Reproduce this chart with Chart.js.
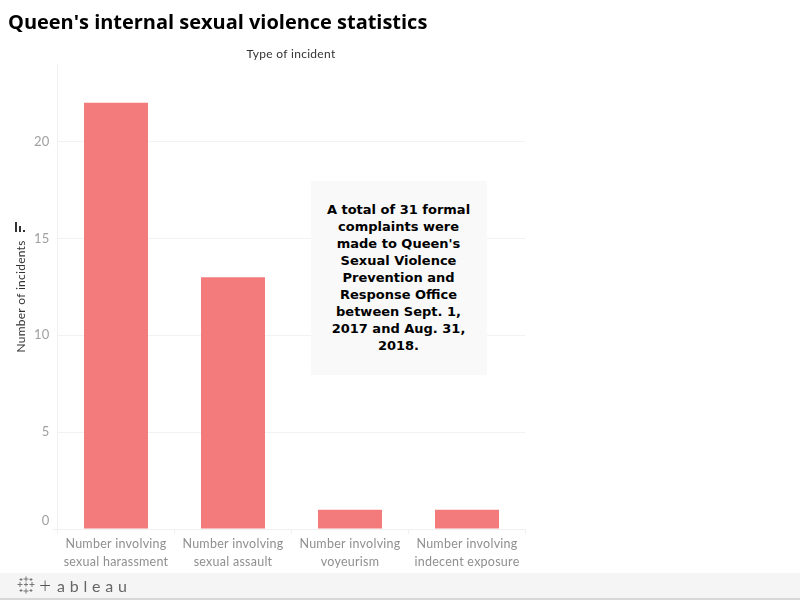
<!DOCTYPE html>
<html><head><meta charset="utf-8">
<script src="https://cdn.jsdelivr.net/npm/chart.js@4"></script>
<style>
html,body{margin:0;padding:0;background:#fff;width:800px;height:600px;overflow:hidden}
#wrap{position:relative;width:800px;height:600px}
canvas{position:absolute;left:0;top:0}
.t{position:absolute;white-space:nowrap}
#title{left:8px;top:8px;font:bold 20px "Open Sans";color:#000;line-height:28px;letter-spacing:-.02px}
#xt{left:57px;width:468px;top:46px;text-align:center;font:12px "Lato";color:#333;line-height:16px;letter-spacing:.3px}
#note{position:absolute;left:311px;top:181px;width:176px;height:194px;background:#f9f9f9;box-sizing:border-box;padding:20px 12.500px 0 11.500px;font:bold 13px/17px "DejaVu Sans";color:#000;text-align:center}
#foot{position:absolute;left:0;top:573px;width:800px;height:25px;background:#f5f5f5;border-bottom:2px solid #d8d8d8}
#plus{position:absolute;left:39px;top:1px;font:300 21px/22px "Lato";color:#555}
#logo{position:absolute;left:57px;top:3px;font:16px/20px "Lato";color:#666;letter-spacing:4.8px}
#icon{position:absolute;left:17px;top:3px}
.b{position:absolute;background:#333}
</style></head><body>
<div id="wrap">
<canvas id="c" width="800" height="600"></canvas>
<div class="t" id="title">Queen's internal sexual violence statistics</div>
<div class="t" id="xt">Type of incident</div>
<div id="note">A total of 31 formal complaints were made to Queen's Sexual Violence Prevention and Response Office between Sept. 1, 2017 and Aug. 31, 2018.</div>
<div class="b" style="left:15px;top:222px;width:2px;height:10px"></div>
<div class="b" style="left:19px;top:226px;width:2px;height:6px"></div>
<div class="b" style="left:23px;top:229.500px;width:2px;height:2.500px"></div>
<div id="foot">
<svg id="icon" width="18" height="18" viewBox="0 0 18 18" stroke="#777" stroke-width="1" fill="none">
<path d="M9 0.500v5M6.500 3h5M9 12.500v5M6.500 15h5M3 6v5M0.500 8.500h5M15 6v5M12.500 8.500h5M4 2v3M2.500 3.500h3M14 2v3M12.500 3.500h3M4 13v3M2.500 14.500h3M14 13v3M12.500 14.500h3M9 6.500v4M7 8.500h4"/>
</svg>
<div id="plus" class="t">+</div>
<div id="logo" class="t">ableau</div>
</div>
</div>
<script>
const categories = [
  ["Number involving","sexual harassment"],
  ["Number involving","sexual assault"],
  ["Number involving","voyeurism"],
  ["Number involving","indecent exposure"]
];
const incidents = [22, 13, 1, 1];
const yTicks = [0, 5, 10, 15, 20];
const yMax = 24;

Chart.defaults.animation = false;
const spacing = { id: 'spacing', beforeDraw(ch) { ch.ctx.letterSpacing = '0.25px'; } };
new Chart(document.getElementById('c'), {
  type: 'bar',
  plugins: [spacing],
  data: { labels: categories, datasets: [{ data: incidents, backgroundColor: '#f37b7b', borderWidth: 0,
    categoryPercentage: 1, barPercentage: 0.547 }] },
  options: {
    responsive: false, devicePixelRatio: 1,
    layout: { padding: { left: 0, right: 274.5, top: 64, bottom: 0 } },
    plugins: { legend: { display: false }, tooltip: { enabled: false } },
    scales: {
      x: {
        afterFit(s) { s.height = 71; },
        grid: { drawOnChartArea: false, drawTicks: true, tickLength: 5, color: '#f0f0f0', offset: true },
        border: { color: '#f0f0f0' },
        ticks: { color: '#8f8f8f', font: { family: 'Lato', size: 12.500, lineHeight: 1.44 }, padding: 1, maxRotation: 0, autoSkip: false }
      },
      y: {
        min: 0, max: yMax,
        afterFit(s) { s.width = 57.5; },
        afterBuildTicks(s) { s.ticks = yTicks.map(v => ({ value: v })); },
        grid: { color: '#f2f2f2', tickLength: 5,
          tickColor: c => (c.tick && c.tick.value === 0 ? '#f0f0f0' : 'rgba(0,0,0,0)') },
        border: { color: '#f0f0f0' },
        ticks: { color: '#a0a0a0', font: { family: 'Lato', size: 13, lineHeight: 1.23 }, padding: 3,
          callback: v => (v === 0 ? ['0', ''] : String(v)) },
        title: { display: true, text: 'Number of incidents', color: '#333',
          font: { family: 'Lato', size: 12, lineHeight: 1.2 }, padding: { top: 14, bottom: 0 } }
      }
    }
  }
});
</script>
</body></html>
